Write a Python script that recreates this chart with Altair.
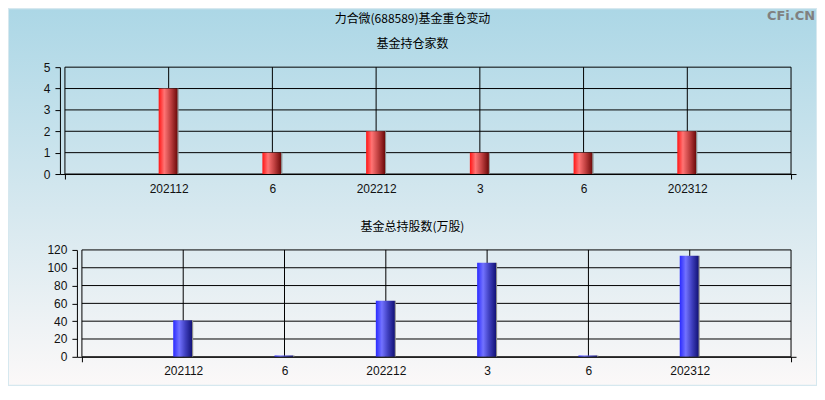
import altair as alt
import pandas as pd

# ---- data ----
periods = ["202112", "202206", "202212", "202303", "202306", "202312"]
tick_labels = ["202112", "6", "202212", "3", "6", "202312"]
fund_counts = [4, 1, 2, 1, 1, 2]
fund_shares = [41, 1.5, 63, 105.5, 1.5, 113.5]
count_ticks = [0, 1, 2, 3, 4, 5]
share_ticks = [0, 20, 40, 60, 80, 100, 120]

main_title = "力合微(688589)基金重仓变动"
top_title = "基金持仓家数"
bottom_title = "基金总持股数(万股)"
watermark = "CFi.CN"

n = len(periods)
bars = pd.DataFrame({
    "pos": list(range(1, n + 1)),
    "period": periods,
    "count": fund_counts,
    "shares": fund_shares,
})
vgrid = pd.DataFrame({"pos": list(range(0, n + 2))})
one = pd.DataFrame({"k": [0]})

NUM_FONT = "Liberation Sans"
CJK_FONT = "Noto Sans CJK SC"

labels_js = "[" + ",".join("'%s'" % s for s in tick_labels) + "]"
label_expr = f"datum.value >= 1 && datum.value <= {n} ? {labels_js}[datum.value - 1] : ''"

W = 737       # common group width
H = 107       # plot height
FULL_W = 808  # width of the painted background
SEAM = "#d6e8ef"


def hgrad(stops):
    return alt.Gradient(gradient="linear", x1=0, y1=0, x2=1, y2=0,
                        stops=[alt.GradientStop(color=c, offset=o) for o, c in stops])


def vgrad(c1, c2):
    return alt.Gradient(gradient="linear", x1=0, y1=0, x2=0, y2=1,
                        stops=[alt.GradientStop(color=c1, offset=0),
                               alt.GradientStop(color=c2, offset=1)])


RED = hgrad([(0, "#ff1414"), (0.28, "#ff7474"), (0.6, "#c04040"),
             (0.93, "#700c0c"), (0.95, "#8c8c8c"), (1, "#8c8c8c")])
BLUE = hgrad([(0, "#2a2aff"), (0.3, "#7272ff"), (0.6, "#4040c0"),
              (0.93, "#14147a"), (0.95, "#8c8c8c"), (1, "#8c8c8c")])


def x_enc(field, inset):
    return alt.X(
        field,
        scale=alt.Scale(domain=[0, n + 1], nice=False, zero=False, range=[inset, W]),
        axis=alt.Axis(
            values=list(range(0, n + 2)), labelExpr=label_expr, title=None,
            grid=False, domainColor="black", tickColor="black", tickSize=5,
            tickOpacity=alt.condition(f"datum.value == 0 || datum.value == {n + 1}",
                                      alt.value(1), alt.value(0)),
            labelPadding=4, labelAngle=0, labelOverlap=False, labelFlush=False,
            labelFont=NUM_FONT, labelFontSize=12, labelColor="#111111", zindex=1,
        ),
    )


def y_enc(field, ticks, inset):
    return alt.Y(
        field,
        scale=alt.Scale(domain=[ticks[0], ticks[-1]], nice=False),
        axis=alt.Axis(
            values=ticks, title=None, grid=False, domainColor="black",
            tickColor="black", tickSize=5, labelPadding=5, labelOverlap=False,
            offset=-inset,
            labelFont=NUM_FONT, labelFontSize=12, labelColor="#111111", zindex=1,
        ),
    )


def panel(inset, top_ext, bottom_ext, c1, c2, yfield, ticks, fill, texts):
    left = 51
    bg = alt.Chart(one).mark_rect(fill=vgrad(c1, c2)).encode(
        x=alt.value(-left), x2=alt.value(-left + FULL_W),
        y=alt.value(-top_ext), y2=alt.value(H + bottom_ext),
    )
    hdf = pd.DataFrame({"v": ticks, "x0": [0] * len(ticks), "x1": [n + 1] * len(ticks)})
    hrules = alt.Chart(hdf).mark_rule(color="black", strokeWidth=1).encode(
        x=x_enc("x0:Q", inset), x2="x1:Q", y=y_enc("v:Q", ticks, inset))
    vrules = alt.Chart(vgrid).mark_rule(color="black", strokeWidth=1).encode(
        x=x_enc("pos:Q", inset))
    b = alt.Chart(bars).mark_bar(size=20, fill=fill).encode(
        x=x_enc("pos:Q", inset), y=y_enc(yfield, ticks, inset))
    layers = [bg, hrules, vrules, b]
    for (t, tx, ty, kw) in texts:
        layers.append(
            alt.Chart(one).mark_text(text=t, **kw).encode(
                x=alt.value(tx), y=alt.value(ty)))
    return alt.layer(*layers).properties(width=W, height=H)


title_kw = dict(font=CJK_FONT, fontSize=12, color="black", align="center", baseline="middle")
wm_kw = dict(font="DejaVu Sans", fontSize=13, fontWeight="bold", color="#808080",
             align="right", baseline="alphabetic")

top = panel(
    0, 58, 35, "#acd7e6", SEAM, "count:Q", count_ticks, RED,
    [(main_title, 353, -48, title_kw), (top_title, 353, -23, title_kw),
     (watermark, FULL_W - 52, -47, wm_kw)],
)
bottom = panel(
    17, 39, 28, SEAM, "#fbf8f8", "shares:Q", share_ticks, BLUE,
    [(bottom_title, 353, -23, title_kw)],
)

chart = alt.vconcat(top, bottom, spacing=0, bounds="full").properties(
    padding=0, background=SEAM
).configure_view(stroke="transparent")

chart.save("out.html", embed_options={"renderer": "svg", "actions": False})
